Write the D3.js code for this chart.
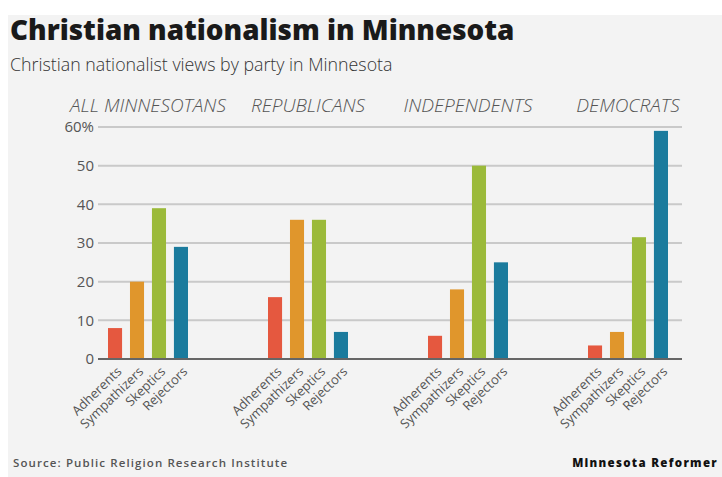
<!DOCTYPE html>
<html><head><meta charset="utf-8">
<script src="https://cdn.jsdelivr.net/npm/d3@7/dist/d3.min.js"></script>
<style>body{margin:0;background:#fff}svg{display:block}text{font-family:"Open Sans",sans-serif}</style>
</head><body><svg id="c" width="722" height="477"></svg>
<script>
const groups = ["ALL MINNESOTANS","REPUBLICANS","INDEPENDENTS","DEMOCRATS"];
const categories = ["Adherents","Sympathizers","Skeptics","Rejectors"];
const adherents    = [8, 16, 6, 3.5];
const sympathizers = [20, 36, 18, 7];
const skeptics     = [39, 36, 50, 31.5];
const rejectors    = [29, 7, 25, 59];
const colors = ["#e5583f","#e0962c","#9bba3a","#1b7b9d"];
const yTicks = [0,10,20,30,40,50,60];
const yTickLabels = ["0","10","20","30","40","50","60%"];

const series = [adherents, sympathizers, skeptics, rejectors];
const svg = d3.select("#c");
svg.append("rect").attr("x",8).attr("y",15).attr("width",714).attr("height",462).attr("fill","#f3f3f3");

svg.append("text").attr("x",10).attr("y",40).attr("font-size",27.8).attr("font-weight",800)
  .attr("fill","#1a1a1a").text("Christian nationalism in Minnesota");
svg.append("text").attr("x",10).attr("y",71).attr("font-size",17.8).attr("font-weight",300).attr("fill","#333")
  .text("Christian nationalist views by party in Minnesota");

const y = d3.scaleLinear().domain([0,60]).range([359,127]);
const x0 = d3.scaleBand().domain(groups).range([108,668]).paddingInner(0.5).paddingOuter(0);
const x1 = d3.scaleBand().domain(categories).range([0,x0.bandwidth()]).paddingInner(0.36).paddingOuter(0);

const gridL = 98, gridR = 682;
svg.append("g").selectAll("line").data(yTicks.filter(d=>d>0)).join("line")
  .attr("x1",gridL).attr("x2",gridR).attr("y1",d=>y(d)).attr("y2",d=>y(d))
  .attr("stroke","#c9c9c9").attr("stroke-width",2);
svg.append("g").selectAll("text").data(yTicks).join("text")
  .attr("x",94).attr("y",d=>y(d)).attr("dy","0.35em").attr("text-anchor","end")
  .attr("font-size",15).attr("fill","#555").text((d,i)=>yTickLabels[i]);

// group labels
svg.append("g").selectAll("text").data(groups).join("text")
  .attr("x",d=>x0(d)+x0.bandwidth()/2).attr("y",112).attr("text-anchor","middle")
  .attr("font-size",19).attr("font-style","italic").attr("font-weight",300).attr("fill","#555")
  .text(d=>d);

// bars
const gs = svg.append("g").selectAll("g").data(groups).join("g")
  .attr("transform",d=>`translate(${x0(d)},0)`);
gs.selectAll("rect").data((g,gi)=>categories.map((c,ci)=>({c,ci,v:series[ci][gi]}))).join("rect")
  .attr("x",d=>x1(d.c)).attr("width",x1.bandwidth())
  .attr("y",d=>y(d.v)).attr("height",d=>y(0)-y(d.v)).attr("fill",d=>colors[d.ci]);
gs.selectAll("text").data(categories).join("text")
  .attr("transform",d=>`translate(${x1(d)+x1.bandwidth()/2+1},${y(0)+7}) rotate(-44)`)
  .attr("text-anchor","end").attr("dy","0.7em").attr("font-size",13).attr("fill","#555").text(d=>d);

svg.append("line").attr("x1",gridL).attr("x2",gridR).attr("y1",y(0)).attr("y2",y(0))
  .attr("stroke","#666").attr("stroke-width",2);

svg.append("text").attr("x",13).attr("y",467).attr("font-size",11.5).attr("font-weight",600).attr("letter-spacing",1.1).attr("fill","#555")
  .text("Source: Public Religion Research Institute");
svg.append("text").attr("x",718).attr("y",467).attr("text-anchor","end").attr("font-size",11.5).attr("font-weight",800).attr("letter-spacing",1.3).attr("fill","#111")
  .text("Minnesota Reformer");
</script></body></html>
